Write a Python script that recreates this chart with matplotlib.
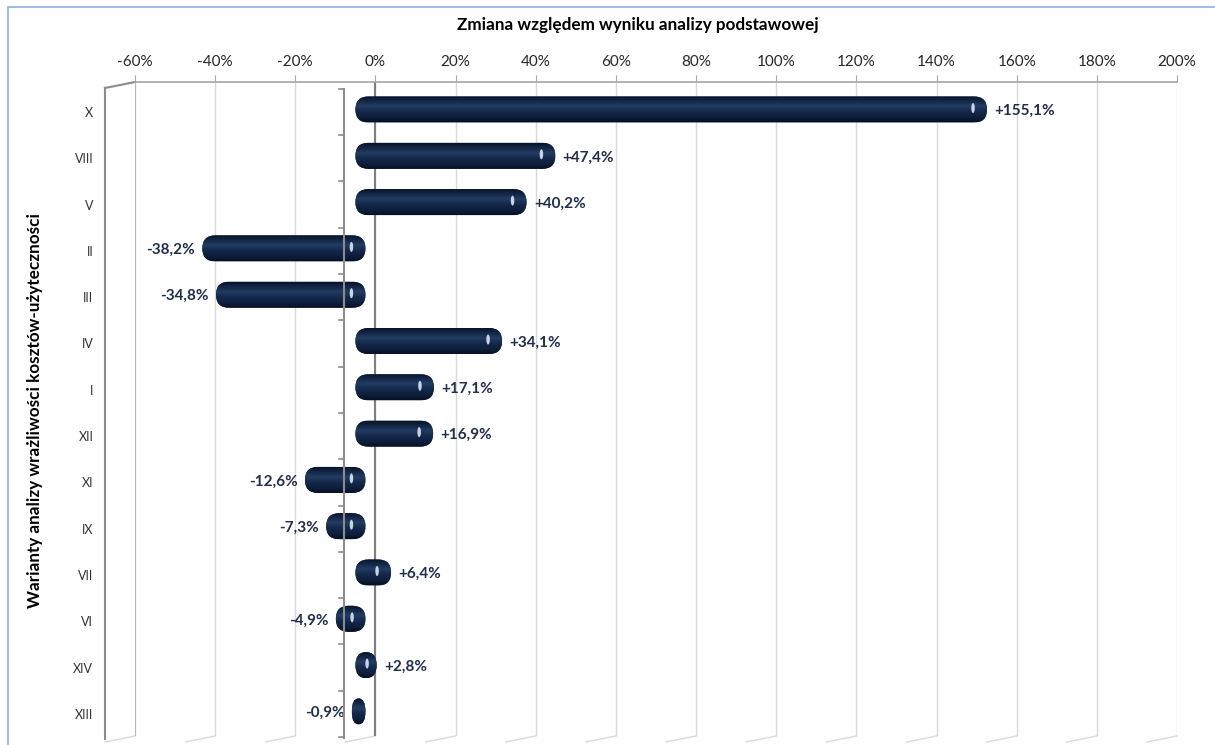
import numpy as np
import matplotlib.pyplot as plt
from matplotlib.patches import FancyBboxPatch, Ellipse, Rectangle
from matplotlib.colors import LinearSegmentedColormap

# data (change vs. base-case result, %)
variants = ["X", "VIII", "V", "II", "III", "IV", "I", "XII", "XI", "IX", "VII", "VI", "XIV", "XIII"]
changes = [155.1, 47.4, 40.2, -38.2, -34.8, 34.1, 17.1, 16.9, -12.6, -7.3, 6.4, -4.9, 2.8, -0.9]
ticks = list(range(-60, 201, 20))

title = "Zmiana względem wyniku analizy podstawowej"
ylabel = "Warianty analizy wrażliwości kosztów-użyteczności"

plt.rcParams['font.family'] = ['Lato', 'DejaVu Sans']

W, H = 1215, 745
fig = plt.figure(figsize=(W / 100, H / 100), dpi=100)
ax = fig.add_axes([135 / W, 1 - 736 / H, (1177 - 135) / W, (736 - 82) / H])

xmin, xmax = -60, 200
ux = (xmax - xmin) / (1177 - 135)   # data units per pixel (x)
uy = 1 / 46.3                        # data units per pixel (y)
ytop = -30 * uy
ybot = (736 - 112) * uy

grid_c = '#d9d9d9'
axis_c = '#8c8c8c'

# gridlines + floor slants
for t in ticks:
    ax.plot([t, t], [ytop, ybot], color=grid_c, lw=1, zorder=1)
    ax.plot([t, t - 30 * ux], [ybot, ybot + 6 * uy], color=grid_c, lw=1, zorder=1, clip_on=False)
ax.plot([0, 0], [ytop, ybot], color='#7f7f7f', lw=1.5, zorder=1)

# left wall
wx = xmin - 30 * ux
ax.plot([wx, xmin], [ytop + 6 * uy, ytop], color=axis_c, lw=1.5, clip_on=False)
ax.plot([wx, wx], [ytop + 6 * uy, ybot + 3 * uy], color=axis_c, lw=1.5, clip_on=False)
ax.plot([xmin, xmin], [ytop, ybot], color='#b0b0b0', lw=1.2)

# category axis (front plane), drawn over the bars like in the source
cx = -31 * ux
ax.plot([cx, cx], [ytop + 7 * uy, ybot + 2 * uy], color=axis_c, lw=1.5, zorder=7, clip_on=False)
for k in range(-1, len(variants)):
    yb = k + 0.5 if k >= 0 else ytop + 7 * uy
    ax.plot([cx - 5 * ux, cx], [yb, yb], color=axis_c, lw=1.2, zorder=7, clip_on=False)

# cylinder bars
cmap = LinearSegmentedColormap.from_list(
    'cyl', [(0, '#081428'), (0.2, '#14294a'), (0.38, '#233c62'),
            (0.6, '#13284a'), (0.85, '#0d1d37'), (1, '#061024')])
grad = np.linspace(0, 1, 64).reshape(-1, 1)
bh = 26 * uy
for i, v in enumerate(changes):
    left = min(0, v) - 5
    right = max(0, v) - 2.5
    w = right - left
    y0 = i - bh / 2 - 2.5 * uy
    r = min(13 * ux, w / 2)
    asp = (bh / 2) / r
    patch = FancyBboxPatch((left, y0), w, bh, boxstyle=f"round,pad=0,rounding_size={r}",
                           mutation_aspect=asp, facecolor='#13284a', edgecolor='none', zorder=3)
    ax.add_patch(patch)
    im = ax.imshow(grad, cmap=cmap, extent=[left, right, y0 + bh, y0], origin='upper',
                   aspect='auto', zorder=4, interpolation='bilinear')
    im.set_clip_path(patch)
    if w > 20 * ux:
        hx = right - 14 * ux if w > 32 * ux else left + w * 0.55
        ax.add_patch(Ellipse((hx, i - 4 * uy), 3.5 * ux, 10 * uy, facecolor='#e8f0ff',
                             edgecolor='none', alpha=0.85, zorder=5))
    lab = f"{v:+.1f}%".replace('.', ',')
    if v >= 0:
        ax.text(right + 1.8, i - 1 * uy, lab, ha='left', va='center', fontsize=11,
                fontweight='bold', color='#1f2f4d', zorder=6)
    else:
        ax.text(left - 1.8, i - 1 * uy, lab, ha='right', va='center', fontsize=11,
                fontweight='bold', color='#1f2f4d', zorder=6)

ax.set_xlim(xmin, xmax)
ax.set_ylim(ybot, ytop)

ax.xaxis.tick_top()
ax.set_xticks(ticks)
ax.set_xticklabels([f"{t}%" for t in ticks])
ax.tick_params(axis='x', direction='out', length=5, color='#a6a6a6', labelsize=11,
               labelcolor='#262626', pad=4)
ax.set_yticks(range(len(variants)))
ax.set_yticklabels(variants)
ax.tick_params(axis='y', length=0, labelsize=9, labelcolor='#333333', pad=30)

for s in ['bottom', 'left', 'right']:
    ax.spines[s].set_visible(False)
ax.spines['top'].set_color('#a6a6a6')
ax.spines['top'].set_linewidth(1.2)
ax.patch.set_alpha(0)

fig.text(638 / W, 1 - 25 / H, title, ha='center', va='center', fontsize=12.3,
         fontweight='bold', color='black')
fig.text(35 / W, 1 - 410 / H, ylabel, ha='center', va='center', rotation=90,
         fontsize=12.3, fontweight='bold', color='black')

fig.patches.append(Rectangle((8 / W, -0.01), 1.0, 1.01 - 7 / H, transform=fig.transFigure,
                             fill=False, edgecolor='#8db3e2', lw=1.2))

fig.savefig('out.png', dpi=100)
